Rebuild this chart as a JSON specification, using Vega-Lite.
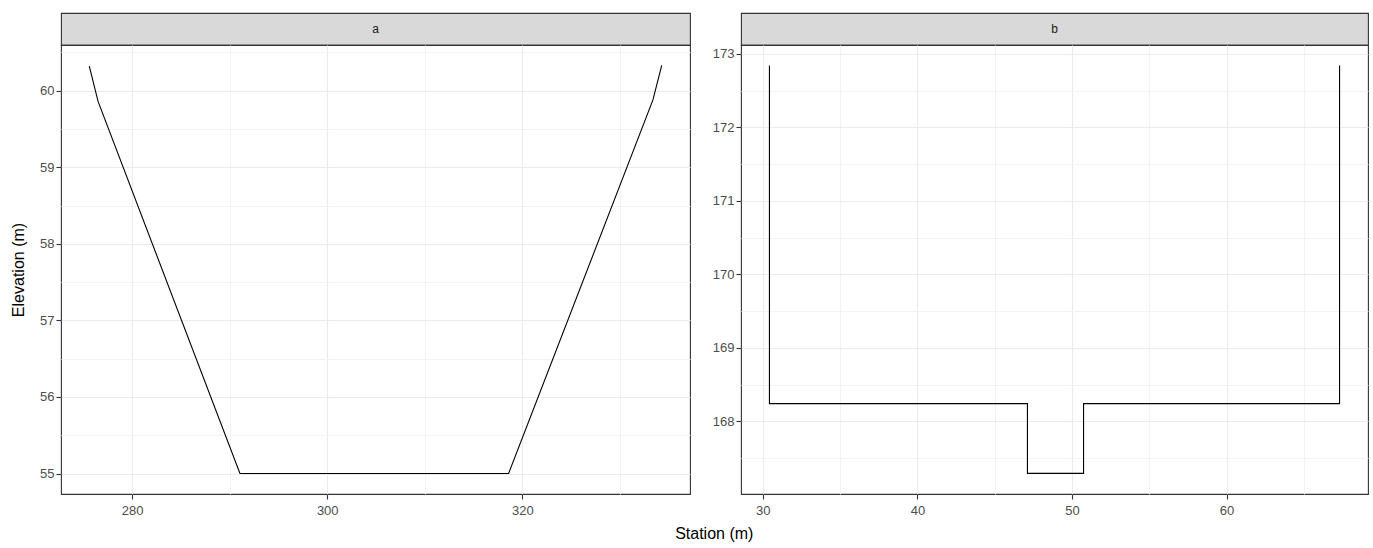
{
  "$schema": "https://vega.github.io/schema/vega-lite/v6.json",
  "padding": {"left": 9, "top": 12, "right": 5, "bottom": 5},
  "background": "white",
  "datasets": {
    "xs": [
      {"panel": "a", "pt": 1, "station": 275.6, "elevation": 60.32},
      {"panel": "a", "pt": 2, "station": 276.5, "elevation": 59.86},
      {"panel": "a", "pt": 3, "station": 291.05, "elevation": 55.0},
      {"panel": "a", "pt": 4, "station": 318.6, "elevation": 55.0},
      {"panel": "a", "pt": 5, "station": 333.4, "elevation": 59.88},
      {"panel": "a", "pt": 6, "station": 334.3, "elevation": 60.33},
      {"panel": "b", "pt": 1, "station": 30.43, "elevation": 172.84},
      {"panel": "b", "pt": 2, "station": 30.43, "elevation": 168.24},
      {"panel": "b", "pt": 3, "station": 47.12, "elevation": 168.24},
      {"panel": "b", "pt": 4, "station": 47.12, "elevation": 167.29},
      {"panel": "b", "pt": 5, "station": 50.75, "elevation": 167.29},
      {"panel": "b", "pt": 6, "station": 50.75, "elevation": 168.24},
      {"panel": "b", "pt": 7, "station": 67.31, "elevation": 168.24},
      {"panel": "b", "pt": 8, "station": 67.31, "elevation": 172.84}
    ]
  },
  "title": {"text": "Station (m)", "orient": "bottom", "anchor": "middle", "fontSize": 16, "fontWeight": "normal", "font": "Liberation Sans", "color": "#000000", "offset": 8, "dx": 25},
  "spacing": 20,
  "hconcat": [
    {
      "spacing": 0,
      "bounds": "flush",
      "vconcat": [
        {
          "width": 629, "height": 32,
          "data": {"values": [{"lab": "a"}]},
          "view": {"fill": "#d9d9d9", "stroke": "#333333", "strokeWidth": 1.1},
          "mark": {"type": "text", "fontSize": 12, "font": "Liberation Sans", "color": "#1a1a1a", "baseline": "middle", "align": "center"},
          "encoding": {"text": {"field": "lab"}}
        },
        {
          "width": 629, "height": 449,
          "data": {"name": "xs"},
          "transform": [{"filter": "datum.panel == 'a'"}],
          "mark": {"type": "line", "color": "#000000", "strokeWidth": 1.1},
          "encoding": {
            "x": {"field": "station", "type": "quantitative",
              "scale": {"domain": [272.7, 337.2], "nice": false, "zero": false},
              "axis": {"title": null, "values": [280, 290, 300, 310, 320, 330],
                "labelExpr": "datum.value % 20 == 0 ? format(datum.value, 'd') : ''",
                "gridColor": {"condition": {"test": "datum.value % 20 == 0", "value": "#ebebeb"}, "value": "#f3f3f3"},
                "tickOpacity": {"condition": {"test": "datum.value % 20 == 0", "value": 1}, "value": 0}}},
            "y": {"field": "elevation", "type": "quantitative",
              "scale": {"domain": [54.733, 60.597], "nice": false, "zero": false},
              "axis": {"title": "Elevation (m)", "values": [55, 55.5, 56, 56.5, 57, 57.5, 58, 58.5, 59, 59.5, 60, 60.5],
                "labelExpr": "datum.value % 1 == 0 ? format(datum.value, 'd') : ''",
                "gridColor": {"condition": {"test": "datum.value % 1 == 0", "value": "#ebebeb"}, "value": "#f3f3f3"},
                "tickOpacity": {"condition": {"test": "datum.value % 1 == 0", "value": 1}, "value": 0}}},
            "order": {"field": "pt", "type": "quantitative"}
          }
        }
      ]
    },
    {
      "spacing": 0,
      "bounds": "flush",
      "vconcat": [
        {
          "width": 627, "height": 32,
          "data": {"values": [{"lab": "b"}]},
          "view": {"fill": "#d9d9d9", "stroke": "#333333", "strokeWidth": 1.1},
          "mark": {"type": "text", "fontSize": 12, "font": "Liberation Sans", "color": "#1a1a1a", "baseline": "middle", "align": "center"},
          "encoding": {"text": {"field": "lab"}}
        },
        {
          "width": 627, "height": 449,
          "data": {"name": "xs"},
          "transform": [{"filter": "datum.panel == 'b'"}],
          "mark": {"type": "line", "color": "#000000", "strokeWidth": 1.1},
          "encoding": {
            "x": {"field": "station", "type": "quantitative",
              "scale": {"domain": [28.59, 69.15], "nice": false, "zero": false},
              "axis": {"title": null, "values": [30, 35, 40, 45, 50, 55, 60, 65],
                "labelExpr": "datum.value % 10 == 0 ? format(datum.value, 'd') : ''",
                "gridColor": {"condition": {"test": "datum.value % 10 == 0", "value": "#ebebeb"}, "value": "#f3f3f3"},
                "tickOpacity": {"condition": {"test": "datum.value % 10 == 0", "value": 1}, "value": 0}}},
            "y": {"field": "elevation", "type": "quantitative",
              "scale": {"domain": [167.01, 173.12], "nice": false, "zero": false},
              "axis": {"title": null, "values": [167.5, 168, 168.5, 169, 169.5, 170, 170.5, 171, 171.5, 172, 172.5, 173],
                "labelExpr": "datum.value % 1 == 0 ? format(datum.value, 'd') : ''",
                "gridColor": {"condition": {"test": "datum.value % 1 == 0", "value": "#ebebeb"}, "value": "#f3f3f3"},
                "tickOpacity": {"condition": {"test": "datum.value % 1 == 0", "value": 1}, "value": 0}}},
            "order": {"field": "pt", "type": "quantitative"}
          }
        }
      ]
    }
  ],
  "config": {
    "view": {"stroke": "#333333", "strokeWidth": 1.1},
    "axis": {
      "domain": false,
      "grid": true,
      "gridWidth": 1.1,
      "labelFont": "Liberation Sans",
      "labelFontSize": 13,
      "labelColor": "#4d4d4d",
      "labelPadding": 2,
      "tickColor": "#333333",
      "tickSize": 5,
      "tickWidth": 1.1,
      "titleFont": "Liberation Sans",
      "titleFontSize": 16,
      "titleFontWeight": "normal",
      "titleColor": "#000000",
      "titlePadding": 13,
      "labelFlush": false,
      "labelOverlap": false
    },
    "axisX": {"labelPadding": 5}
  }
}
